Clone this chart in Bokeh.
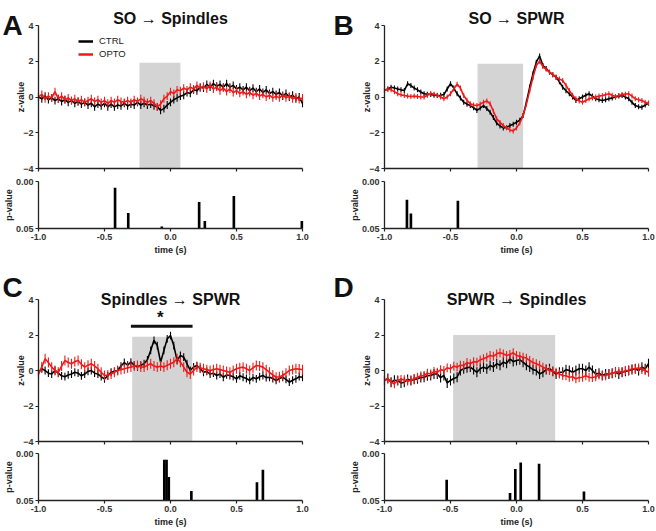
import numpy as np
from bokeh.plotting import figure
from bokeh.layouts import column, row
from bokeh.models import Range1d, FixedTicker, NumeralTickFormatter, Label, Legend, LegendItem
from bokeh.embed import file_html
from bokeh.resources import INLINE

# ---------------- data ----------------
TIME = np.round(np.arange(-40, 41) * 0.025, 3)   # sampling grid, -1.0 .. 1.0 s
X_TICKS = [-1.0, -0.5, 0.0, 0.5, 1.0]
Z_TICKS = [-4, -2, 0, 2, 4]
P_TICKS = [0.0, 0.05]

A_CTRL = [0.00, -0.10, 0.05, -0.15, -0.05, -0.20, -0.10, -0.25, -0.15,
          -0.30, -0.20, -0.35, -0.25, -0.40, -0.30, -0.45, -0.35, -0.55,
          -0.40, -0.50, -0.35, -0.55, -0.40, -0.55, -0.45, -0.50, -0.35,
          -0.50, -0.40, -0.45, -0.30, -0.45, -0.35, -0.45, -0.40, -0.50,
          -0.55, -0.75, -0.65, -0.45, -0.30, -0.15, -0.05, 0.05, 0.10,
          0.25, 0.20, 0.40, 0.35, 0.55, 0.50, 0.70, 0.55, 0.75,
          0.60, 0.70, 0.55, 0.75, 0.55, 0.65, 0.45, 0.55, 0.40,
          0.55, 0.35, 0.50, 0.30, 0.45, 0.25, 0.40, 0.20, 0.30,
          0.15, 0.25, 0.05, 0.20, 0.00, 0.10, -0.10, 0.00, -0.35]
A_OPTO = [0.00, 0.15, -0.10, 0.05, -0.05, 0.30, -0.10, 0.05, -0.15,
          -0.05, -0.20, -0.10, -0.25, -0.15, -0.30, -0.20, -0.10, -0.25,
          -0.15, -0.30, -0.20, -0.35, -0.20, -0.30, -0.15, -0.25, -0.30,
          -0.20, -0.30, -0.15, -0.25, -0.10, -0.20, -0.30, -0.20, -0.35,
          -0.55, -0.40, -0.10, 0.05, 0.30, 0.20, 0.40, 0.35, 0.50,
          0.40, 0.55, 0.45, 0.65, 0.50, 0.60, 0.45, 0.65, 0.45,
          0.55, 0.35, 0.50, 0.30, 0.45, 0.25, 0.35, 0.20, 0.30,
          0.15, 0.25, 0.10, 0.20, 0.05, 0.15, 0.00, 0.10, -0.05,
          0.05, -0.05, 0.10, -0.05, 0.05, -0.10, 0.00, -0.15, -0.05]

B_CTRL = [0.36, 0.45, 0.55, 0.50, 0.45, 0.40, 0.36, 0.74, 0.64,
          0.50, 0.40, 0.28, 0.18, 0.16, 0.14, 0.10, 0.08, 0.10,
          0.14, 0.45, 0.74, 0.50, 0.18, -0.05, -0.29, -0.40, -0.48,
          -0.60, -0.75, -0.62, -0.48, -0.65, -0.85, -1.15, -1.46, -1.62,
          -1.73, -1.70, -1.60, -1.52, -1.41, -1.30, -1.04, -0.30, 0.55,
          1.30, 1.95, 2.30, 1.76, 1.60, 1.39, 1.25, 1.11, 0.85,
          0.55, 0.35, 0.18, 0.00, -0.20, -0.10, 0.00, 0.10, 0.18,
          0.05, -0.10, -0.15, -0.20, -0.15, -0.10, -0.05, 0.00, 0.05,
          0.08, 0.00, -0.10, -0.30, -0.48, -0.55, -0.57, -0.45, -0.35]
B_OPTO = [0.36, 0.45, 0.40, 0.30, 0.18, 0.12, 0.08, 0.05, 0.03,
          0.05, 0.03, 0.00, 0.00, 0.10, 0.20, 0.15, 0.10, 0.00,
          -0.10, 0.00, 0.18, 0.45, 0.72, 0.50, 0.08, -0.18, -0.38,
          -0.45, -0.48, -0.40, -0.29, -0.22, -0.38, -0.80, -1.22, -1.42,
          -1.60, -1.72, -1.84, -1.90, -1.73, -1.45, -1.04, -0.40, 0.36,
          1.10, 1.76, 2.00, 1.70, 1.55, 1.39, 1.25, 1.11, 1.00,
          0.92, 0.65, 0.36, 0.10, -0.10, -0.22, -0.29, -0.20, -0.10,
          -0.05, 0.00, 0.05, 0.08, 0.12, 0.18, 0.10, 0.03, 0.08,
          0.14, 0.16, 0.18, 0.05, -0.10, -0.15, -0.20, -0.30, -0.35]

C_CTRL = [-0.10, 0.10, 0.00, -0.15, -0.20, 0.00, -0.15, -0.30, -0.35,
          -0.25, -0.20, -0.10, -0.15, -0.30, -0.20, -0.05, 0.00, -0.15,
          -0.20, -0.35, -0.47, -0.30, -0.10, -0.05, 0.00, 0.25, 0.45,
          0.30, 0.47, 0.30, 0.19, 0.30, 0.38, 0.60, 1.13, 1.70,
          1.40, 0.47, 1.13, 1.78, 1.97, 1.40, 0.56, 0.85, 0.75,
          0.38, 0.00, 0.20, 0.28, 0.10, -0.10, -0.05, -0.20, -0.15,
          -0.28, -0.20, -0.38, -0.25, -0.28, -0.35, -0.47, -0.30, -0.38,
          -0.45, -0.56, -0.40, -0.47, -0.35, -0.28, -0.40, -0.38, -0.45,
          -0.56, -0.45, -0.38, -0.50, -0.66, -0.55, -0.47, -0.35, -0.38]
C_OPTO = [-0.20, 0.20, 0.66, 0.45, 0.19, 0.00, -0.10, 0.25, 0.56,
          0.45, 0.38, 0.50, 0.56, 0.35, 0.19, 0.30, 0.38, 0.25,
          0.10, -0.10, -0.28, -0.25, -0.20, -0.10, 0.00, 0.05, 0.10,
          0.15, 0.19, 0.25, 0.28, 0.20, 0.19, 0.30, 0.38, 0.25,
          0.19, 0.25, 0.19, 0.30, 0.38, 0.47, 0.66, 0.47, 0.19,
          -0.10, -0.20, 0.00, 0.19, 0.15, 0.10, 0.05, 0.00, 0.05,
          0.10, 0.05, 0.00, -0.05, -0.10, 0.00, 0.10, 0.15, 0.19,
          0.10, 0.00, 0.15, 0.28, 0.25, 0.19, 0.05, -0.10, -0.25,
          -0.38, -0.35, -0.28, -0.15, 0.00, 0.05, 0.10, 0.08, 0.04]

D_CTRL = [-0.56, -0.45, -0.66, -0.55, -0.56, -0.70, -0.66, -0.50, -0.56,
          -0.50, -0.47, -0.40, -0.38, -0.30, -0.28, -0.20, -0.20, -0.40,
          -0.28, -0.70, -0.56, -0.45, -0.38, 0.00, 0.10, 0.15, 0.19,
          0.05, -0.10, 0.10, 0.19, 0.10, 0.28, 0.20, 0.38, 0.30,
          0.47, 0.40, 0.66, 0.50, 0.56, 0.60, 0.47, 0.30, 0.19,
          0.05, 0.00, -0.20, -0.10, 0.05, 0.10, -0.05, -0.20, -0.10,
          -0.10, 0.05, 0.00, -0.10, 0.00, 0.10, 0.10, 0.00, 0.19,
          0.00, -0.20, -0.15, -0.28, -0.20, -0.20, -0.15, -0.10, -0.20,
          -0.10, -0.05, 0.00, 0.05, 0.10, 0.00, 0.19, 0.10, 0.38]
D_OPTO = [-0.56, -0.45, -0.66, -0.75, -0.56, -0.50, -0.52, -0.60, -0.56,
          -0.45, -0.38, -0.30, -0.28, -0.15, -0.20, -0.05, -0.10, 0.05,
          0.00, 0.15, 0.10, 0.25, 0.19, 0.30, 0.28, 0.45, 0.38,
          0.50, 0.47, 0.60, 0.66, 0.75, 0.85, 0.80, 0.94, 1.00,
          0.94, 0.85, 0.90, 1.00, 0.85, 0.80, 0.75, 0.70, 0.56,
          0.45, 0.38, 0.30, 0.19, 0.10, 0.00, -0.05, -0.10, -0.20,
          -0.28, -0.30, -0.38, -0.35, -0.47, -0.40, -0.38, -0.30, -0.38,
          -0.40, -0.35, -0.25, -0.28, -0.30, -0.20, -0.15, -0.10, -0.05,
          -0.10, 0.00, 0.00, 0.10, 0.10, 0.15, 0.05, 0.00, -0.10]

# standard errors (z-value units)
A_SEM = (0.22, 0.22)
B_SEM = (0.14, 0.14)
C_SEM = (0.22, 0.28)
D_SEM = (0.28, 0.25)

# grey analysis windows: (start, end, top)
A_WIN = (-0.235, 0.075, 1.92)
B_WIN = (-0.295, 0.050, 1.86)
C_WIN = (-0.290, 0.165, 1.90)
D_WIN = (-0.480, 0.293, 2.00)

# p-values of significant bins
A_PT = [-0.42, -0.32, -0.066, 0.217, 0.26, 0.48, 0.995]
A_PV = [0.0067, 0.0335, 0.048, 0.0218, 0.042, 0.0155, 0.042]
B_PT = [-0.83, -0.80, -0.444]
B_PV = [0.0194, 0.034, 0.0204]
C_PT = [-0.047, -0.030, -0.013, 0.158, 0.655, 0.700]
C_PV = [0.0067, 0.0067, 0.025, 0.040, 0.0305, 0.0173]
D_PT = [-0.529, -0.049, -0.009, 0.032, 0.171, 0.511]
D_PV = [0.0278, 0.042, 0.0166, 0.0095, 0.011, 0.0405]

# significance bar in panel C: (start, end, level)
C_SIG = (-0.30, 0.167, 2.5)

TITLES = ["SO \u2192 Spindles", "SO \u2192 SPWR", "Spindles \u2192 SPWR", "SPWR \u2192 Spindles"]
LETTERS = ["A", "B", "C", "D"]

# ---------------- style / layout ----------------
FONT = "Liberation Sans"
RED = "#ee1a1a"
BLACK = "#000000"
BOX = "#d4d4d4"
AX = "#222222"

FRAME_W = 264            # px spanned by -1..1
PX_PER_X = FRAME_W / 2.0


def style_axis(ax):
    ax.axis_line_color = AX
    ax.axis_line_width = 1.3
    ax.major_tick_line_color = AX
    ax.major_tick_line_width = 1.2
    ax.major_tick_out = 3
    ax.major_tick_in = 0
    ax.minor_tick_line_color = None
    ax.major_label_text_font = FONT
    ax.major_label_text_font_size = "9px"
    ax.major_label_text_font_style = "bold"
    ax.major_label_text_color = "#333333"
    ax.major_label_standoff = 2
    ax.axis_label_text_font = FONT
    ax.axis_label_text_font_size = "9px"
    ax.axis_label_text_font_style = "bold"
    ax.axis_label_text_color = "#222222"
    ax.axis_label_standoff = 2


def make_fig(w, h, left_px, top_px, frame_h, y_lo, y_hi, inverted=False):
    """Figure whose plotting frame fills the whole canvas; the data box
    (-1..1 by y_lo..y_hi) sits at left_px/top_px with size FRAME_W x frame_h."""
    x0 = -1 - left_px / PX_PER_X
    x1 = 1 + (w - left_px - FRAME_W) / PX_PER_X
    py = (y_hi - y_lo) / frame_h
    bottom_px = h - top_px - frame_h
    if inverted:
        yr = Range1d(start=y_hi + bottom_px * py, end=y_lo - top_px * py)
    else:
        yr = Range1d(start=y_lo - bottom_px * py, end=y_hi + top_px * py)
    f = figure(width=w, height=h, x_range=Range1d(x0, x1), y_range=yr,
               output_backend="svg", toolbar_location=None,
               min_border_left=0, min_border_right=0,
               min_border_top=0, min_border_bottom=0)
    f.outline_line_color = None
    f.grid.visible = False
    f.background_fill_color = "white"
    f.border_fill_color = "white"
    f.xaxis.fixed_location = (y_hi if inverted else y_lo)
    f.yaxis.fixed_location = -1
    f.xaxis.bounds = (-1, 1)
    f.yaxis.bounds = (min(y_lo, y_hi), max(y_lo, y_hi))
    style_axis(f.xaxis[0])
    style_axis(f.yaxis[0])
    return f


def text_label(x, y, text, size, align="left"):
    return Label(x=x, y=y, text=text, text_font=FONT, text_font_size=size,
                 text_font_style="bold", text_color="#111111",
                 text_align=align, text_baseline="alphabetic")


def main_fig(w, h, left_px, top_px, frame_h, letter, letter_px, letter_up, title, title_up,
             ctrl, opto, sem, win, legend=None, sig=None):
    f = make_fig(w, h, left_px, top_px, frame_h, -4, 4)
    ppu = frame_h / 8.0
    f.quad(left=win[0], right=win[1], bottom=-4, top=win[2], fill_color=BOX, line_color=None)
    c = np.array(ctrl)
    o = np.array(opto)
    f.segment(x0=TIME, y0=c - sem[0], x1=TIME, y1=c + sem[0], line_color=BLACK, line_width=1.1)
    f.line(TIME, c, line_color=BLACK, line_width=1.6)
    f.segment(x0=TIME, y0=o - sem[1], x1=TIME, y1=o + sem[1], line_color=RED, line_width=1.1)
    f.line(TIME, o, line_color=RED, line_width=1.6)
    if sig is not None:
        f.segment(x0=[sig[0]], y0=[sig[2]], x1=[sig[1]], y1=[sig[2]], line_color="#111111", line_width=3)
        f.add_layout(text_label((sig[0] + sig[1]) / 2 - 0.01, sig[2] + 9 / ppu, "*", "17px", "center"))
    f.yaxis.ticker = FixedTicker(ticks=Z_TICKS)
    f.yaxis.axis_label = "z-value"
    f.yaxis.axis_label_standoff = -6
    f.xaxis.ticker = FixedTicker(ticks=X_TICKS)
    f.xaxis.major_label_text_font_size = "1px"
    f.xaxis.major_label_text_color = None
    f.xaxis.major_label_standoff = 0
    # panel letter and title
    f.add_layout(text_label(-1 + (letter_px - left_px) / PX_PER_X, 4 + letter_up / ppu,
                            letter, "28px"))
    f.add_layout(text_label(0, 4 + title_up / ppu, title, "16px", "center"))
    if legend is not None:
        dc = f.line([5, 6], [9, 9], line_color=BLACK, line_width=2.5)
        do = f.line([5, 6], [9, 9], line_color=RED, line_width=2.5)
        lg = Legend(items=[LegendItem(label="CTRL", renderers=[dc]),
                           LegendItem(label="OPTO", renderers=[do])],
                    location=legend, orientation="vertical",
                    label_text_font=FONT, label_text_font_size="9.5px",
                    label_text_color="#222222",
                    glyph_width=15, glyph_height=10, label_height=10,
                    label_standoff=6, spacing=2, padding=0, margin=0,
                    border_line_color=None, background_fill_alpha=0)
        f.add_layout(lg)
    return f


def p_fig(w, h, left_px, top_px, frame_h, pt, pv):
    f = make_fig(w, h, left_px, top_px, frame_h, 0.0, 0.05, inverted=True)
    f.vbar(x=pt, width=0.02, bottom=0.05, top=pv, fill_color=BLACK, line_color=None)
    f.yaxis.ticker = FixedTicker(ticks=P_TICKS)
    f.yaxis.formatter = NumeralTickFormatter(format="0.00")
    f.yaxis.axis_label = "p-value"
    f.yaxis.axis_label_standoff = -1
    f.xaxis.ticker = FixedTicker(ticks=X_TICKS)
    f.xaxis.formatter = NumeralTickFormatter(format="0.0")
    f.xaxis.axis_label = "time (s)"
    return f


WL, WR = 326, 330
LL, RL = 38, 58          # px from canvas left to the x=-1 axis

mA = main_fig(WL, 174, LL, 25, 143, LETTERS[0], 2, 0, TITLES[0], 7,
              A_CTRL, A_OPTO, A_SEM, A_WIN, legend=(78, 115))
pA = p_fig(WL, 91, LL, 7, 47, A_PT, A_PV)
mB = main_fig(WR, 174, RL, 25, 143, LETTERS[1], 7, 0, TITLES[1], 7,
              B_CTRL, B_OPTO, B_SEM, B_WIN)
pB = p_fig(WR, 91, RL, 7, 47, B_PT, B_PV)
mC = main_fig(WL, 182, LL, 34, 142, LETTERS[2], 2, 12, TITLES[2], 0.5,
              C_CTRL, C_OPTO, C_SEM, C_WIN, sig=C_SIG)
pC = p_fig(WL, 84, LL, 6, 47, C_PT, C_PV)
mD = main_fig(WR, 182, RL, 34, 142, LETTERS[3], 7, 12, TITLES[3], 0.5,
              D_CTRL, D_OPTO, D_SEM, D_WIN)
pD = p_fig(WR, 84, RL, 6, 47, D_PT, D_PV)

layout = column(row(column(mA, pA), column(mB, pB)),
                row(column(mC, pC), column(mD, pD)))

open("out.html", "w").write(file_html(layout, INLINE))
